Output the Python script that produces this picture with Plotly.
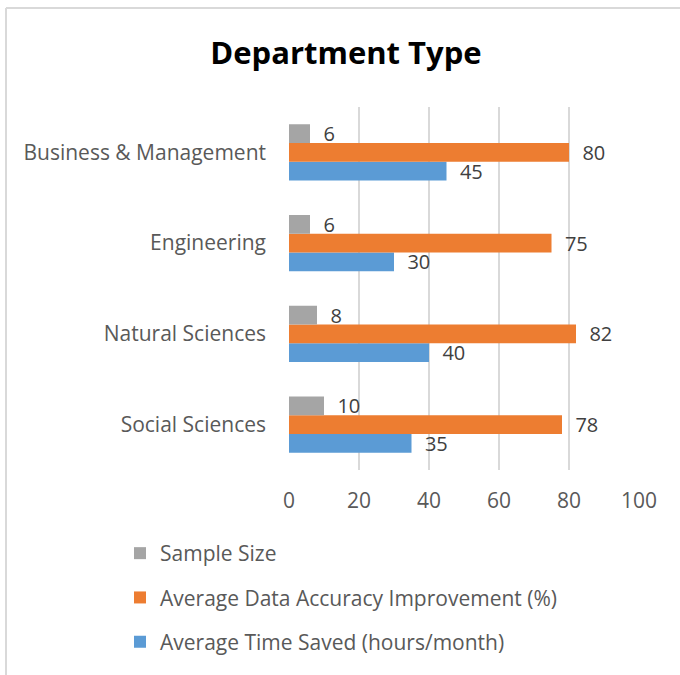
import plotly.graph_objects as go

categories = ["Social Sciences", "Natural Sciences", "Engineering", "Business & Management"]
time_saved = [35, 40, 30, 45]
accuracy = [78, 82, 75, 80]
sample_size = [10, 8, 6, 6]
x_ticks = [0, 20, 40, 60, 80, 100]

FONT = "Open Sans"
TXT = "#595959"

L, R, T, B = 289, 41, 107, 205
W, H = 680, 675
pw, ph = W - L - R, H - T - B

def px(x):
    return (x - L) / pw

def py(y):
    return (H - B - y) / ph

fig = go.Figure()
series = [
    ("Average Time Saved (hours/month)", time_saved, "#5b9bd5", 3),
    ("Average Data Accuracy Improvement (%)", accuracy, "#ed7d31", 2),
    ("Sample Size", sample_size, "#a5a5a5", 1),
]
for name, vals, col, rank in series:
    fig.add_trace(go.Bar(
        y=categories, x=vals, name=name, orientation="h",
        legendgroup=name, legendrank=rank,
        marker=dict(color=col, line=dict(width=0)),
        text=vals, texttemplate="\u00a0\u00a0%{x}",
        textposition="outside", cliponaxis=False, constraintext="none",
        textfont=dict(family=FONT, size=20, color="#404040"),
    ))

fig.update_layout(
    width=W, height=H,
    margin=dict(l=L, r=R, t=T, b=B, autoexpand=False),
    paper_bgcolor="white", plot_bgcolor="white",
    barmode="group", bargap=0.38, bargroupgap=0,
    title=dict(text="<b>Department Type</b>", x=346 / W, xanchor="center",
               y=1 - 53 / H, yanchor="middle",
               font=dict(family=FONT, size=31, color="black")),
    xaxis=dict(range=[0, 100], tickvals=x_ticks, showgrid=True,
               gridcolor="#d9d9d9", gridwidth=1.5, zeroline=False,
               showline=False, ticks="", ticklabelstandoff=16,
               tickfont=dict(family=FONT, size=21, color=TXT)),
    yaxis=dict(showgrid=False, zeroline=False, showline=False, ticks="",
               ticklabelstandoff=22,
               tickfont=dict(family=FONT, size=21, color=TXT)),
    legend=dict(x=px(120), y=py(533), xanchor="left", yanchor="top",
                traceorder="grouped", orientation="v",
                font=dict(family=FONT, size=21, color=TXT),
                tracegroupgap=14, itemwidth=30),
    showlegend=True,
    shapes=[
        dict(type="line", xref="paper", yref="paper",
             x0=px(6), x1=px(690), y0=py(8), y1=py(8),
             line=dict(color="#d9d9d9", width=2)),
        dict(type="line", xref="paper", yref="paper",
             x0=px(6), x1=px(6), y0=py(8), y1=py(690),
             line=dict(color="#d9d9d9", width=2)),
    ],
)

fig.write_html("out.html", config={"displayModeBar": False},
               post_script="document.body.style.margin='0';document.body.style.overflow='hidden';")
